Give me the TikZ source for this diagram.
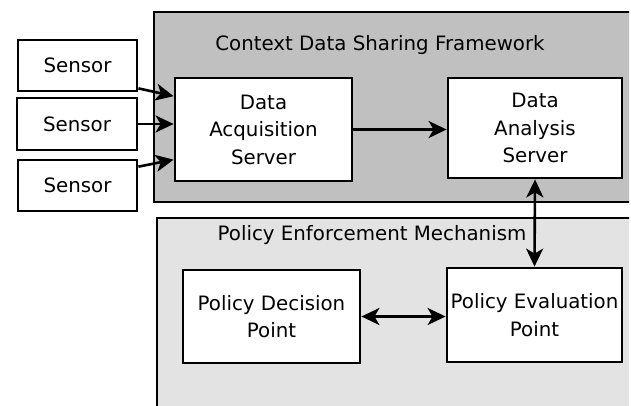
\documentclass[tikz,border=0pt]{standalone}
\usepackage{fontspec}
\setmainfont{DejaVu Sans}
\usetikzlibrary{arrows.meta,calc}
\definecolor{framedark}{RGB}{192,192,192}
\definecolor{framelight}{RGB}{227,227,227}
\begin{document}
\begin{tikzpicture}[x=1pt,y=-1pt,
  font=\fontsize{19.8}{27.5}\selectfont,
  box/.style={draw=black,fill=white,line width=2.8pt,align=center,
    inner sep=0pt,minimum width=#1},
  frame/.style={draw=black,line width=2.8pt},
  tip/.tip={Stealth[length=18pt,width=17pt,inset=5pt]},
  link/.style={line width=2.6pt,-tip},
  twoway/.style={line width=2.6pt,tip-tip}]
\useasboundingbox (0,0) rectangle (631,405);

% the two framework panels, running off the right and bottom edges
\begin{scope}
  \clip (0,0) rectangle (629,405);
  \fill[framedark] (154,12) rectangle (660,202);
  \draw[frame] (660,12) -- (154,12) -- (154,202) -- (660,202);
  \fill[framelight] (157,218) rectangle (660,430);
  \draw[frame] (660,218) -- (157,218) -- (157,430);
\end{scope}

\node (fwtitle) at (380,45) {Context Data Sharing Framework};
\node (pemtitle) at (372,235) {Policy Enforcement Mechanism};

% sensors
\node[box=119pt,minimum height=51pt] (s1) at (77.5,65.5) {Sensor};
\node[box=120pt,minimum height=52pt] (s2) at (77,124) {Sensor};
\node[box=119pt,minimum height=51pt] (s3) at (77.5,185.5) {Sensor};

% servers
\node[box=177pt,minimum height=103pt] (daq) at (263.5,129.5) {Data\\Acquisition\\Server};
\node[box=174pt,minimum height=100pt] (das) at (535,128) {Data\\Analysis\\Server};

% policy points
\node[box=177pt,minimum height=93pt] (pdp) at (271.5,316.5) {Policy Decision\\Point};
\node[box=175pt,minimum height=94pt] (pep) at (534.5,315) {Policy Evaluation\\Point};

% connectors
\draw[link] ($(s1.east)!0.85!(s1.south east)$) -- ($(daq.north west)!0.37!(daq.west)$);
\draw[link] (s2.east) -- (s2.east -| daq.west);
\draw[link] ($(s3.north east)!0.3!(s3.east)$) -- ($(daq.west)!0.57!(daq.south west)$);
\draw[link] (daq.east) -- (daq.east -| das.west);
\draw[twoway] (das.south) -- (pep.north);
\draw[twoway] (pdp.east) -- (pdp.east -| pep.west);
\end{tikzpicture}
\end{document}
